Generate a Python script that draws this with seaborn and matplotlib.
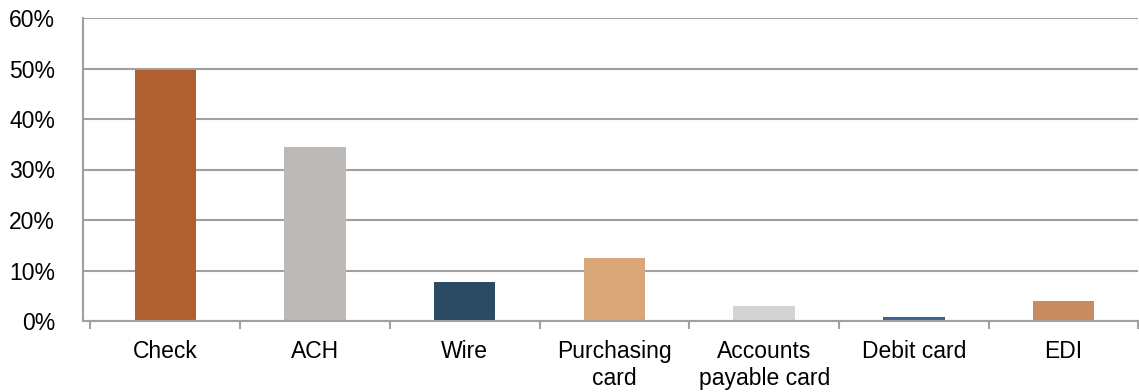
import matplotlib
matplotlib.use("Agg")
import matplotlib.pyplot as plt
import seaborn as sns
import pandas as pd
import numpy as np
from matplotlib.ticker import FuncFormatter, FixedLocator

categories = ["Check", "ACH", "Wire", "Purchasing\ncard", "Accounts\npayable card", "Debit card", "EDI"]
values = [49.7, 34.5, 7.7, 12.5, 3.0, 0.7, 4.0]
colors = ["#B06030", "#BDB9B7", "#2B4A63", "#D9A679", "#D3D3D3", "#3B6590", "#C98B60"]
yticks = [0, 10, 20, 30, 40, 50, 60]

sns.set_theme(style="white")
plt.rcParams['font.family'] = ['Liberation Sans', 'DejaVu Sans']

df = pd.DataFrame({"cat": categories, "val": values})

fig = plt.figure(figsize=(11.39, 3.92), dpi=100)
ax = fig.add_axes([83/1139, 71/392, 1 - 83/1139 - 0.0005, (321-18)/392])

sns.barplot(data=df, x="cat", y="val", hue="cat", palette=colors, width=0.41,
            legend=False, ax=ax, saturation=1, linewidth=0, edgecolor="none")

gray = "#A0A0A0"
ax.set_ylim(0, 60)
ax.set_xlim(-0.55, 6.5)
ax.yaxis.set_major_locator(FixedLocator(yticks))
ax.yaxis.set_major_formatter(FuncFormatter(lambda v, p: f"{int(v)}%"))
ax.grid(axis="y", color=gray, linewidth=1.5)
ax.set_axisbelow(True)
for s in ["top", "right"]:
    ax.spines[s].set_visible(False)
for s in ["left", "bottom"]:
    ax.spines[s].set_color(gray)
    ax.spines[s].set_linewidth(1.5)

ax.set_xlabel("")
ax.set_ylabel("")
ax.tick_params(axis="y", length=0, pad=20, labelsize=16.5, labelcolor="black")

# category boundaries as major ticks, labels on minor ticks
n = len(categories)
ax.set_xticks(np.arange(n + 1) - 0.5)
ax.set_xticklabels([""] * (n + 1))
ax.set_xticks(np.arange(n), minor=True)
ax.set_xticklabels(categories, minor=True)
ax.tick_params(axis="x", which="major", length=6, width=1.5, color=gray, direction="out", bottom=True)
ax.tick_params(axis="x", which="minor", length=0, pad=14, labelsize=16.5, labelcolor="black", bottom=True)

fig.savefig("out.png", dpi=100)
